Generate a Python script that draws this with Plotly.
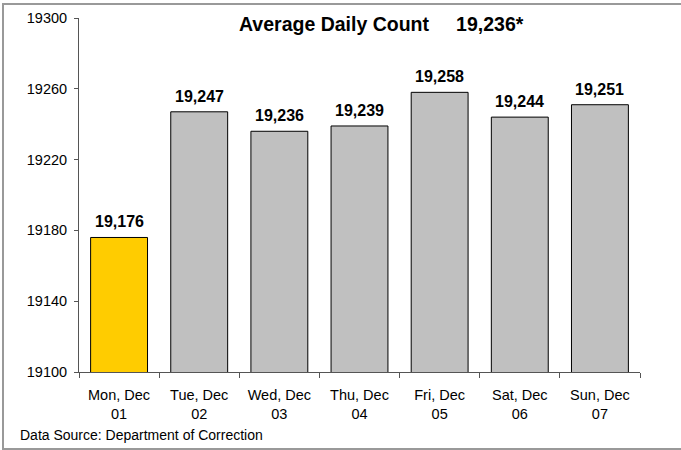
import plotly.graph_objects as go

categories = ["Mon, Dec<br>01", "Tue, Dec<br>02", "Wed, Dec<br>03", "Thu, Dec<br>04",
              "Fri, Dec<br>05", "Sat, Dec<br>06", "Sun, Dec<br>07"]
counts = [19176, 19247, 19236, 19239, 19258, 19244, 19251]
bar_colors = ["#FFCC00"] + ["#C0C0C0"] * 6
y_ticks = [19100, 19140, 19180, 19220, 19260, 19300]
title_text = "Average Daily Count&nbsp;&nbsp;&nbsp;&nbsp;&nbsp;19,236*"
source_text = "Data Source: Department of Correction"

FONT = "Liberation Sans, Arial, sans-serif"

fig = go.Figure()
fig.add_trace(go.Bar(
    x=categories, y=counts,
    marker=dict(color=bar_colors, line=dict(color="#000000", width=1)),
    width=0.71, hoverinfo="skip",
))

for c, v in zip(categories, counts):
    fig.add_annotation(x=c, y=v, text=f"<b>{v:,}</b>", showarrow=False,
                       yanchor="bottom", yshift=5,
                       font=dict(family=FONT, size=16, color="#000000"))

fig.add_annotation(xref="paper", yref="paper", x=(381 - 79) / 561, y=1 - (24 - 18) / 354,
                   text=f"<b>{title_text}</b>", showarrow=False,
                   xanchor="center", yanchor="middle",
                   font=dict(family=FONT, size=19.5, color="#000000"))

fig.add_annotation(xref="paper", yref="paper", x=(18 - 79) / 561, y=1 - (435 - 18) / 354,
                   text=source_text, showarrow=False,
                   xanchor="left", yanchor="middle",
                   font=dict(family=FONT, size=14, color="#000000"))

# outer frame
fig.add_shape(type="rect", xref="paper", yref="paper",
              x0=(3 - 79) / 561, x1=(700 - 79) / 561,
              y0=1 - (449 - 18) / 354, y1=1 - (4 - 18) / 354,
              line=dict(color="#999999", width=2), layer="below")

fig.update_layout(
    width=681, height=450,
    margin=dict(l=79, r=41, t=18, b=78),
    paper_bgcolor="#FFFFFF", plot_bgcolor="#FFFFFF",
    showlegend=False,
    font=dict(family=FONT, size=14, color="#000000"),
    xaxis=dict(type="category", tickson="boundaries", ticks="outside", ticklen=5,
               tickcolor="#555555", showline=True, linecolor="#555555", linewidth=1,
               showgrid=False, tickfont=dict(size=14.5), range=[-0.5, 6.5],
               ticklabelstandoff=10, automargin=False),
    yaxis=dict(range=[19100, 19300], tickvals=y_ticks, ticktext=[str(t) for t in y_ticks],
               ticks="outside", ticklen=4,
               tickcolor="#555555", showline=True, linecolor="#555555", linewidth=1,
               showgrid=False, zeroline=False, tickfont=dict(size=14.5),
               ticklabelstandoff=4, automargin=False),
)

fig.write_html("out.html", config={"displayModeBar": False},
               post_script="document.body.style.margin='0';")
